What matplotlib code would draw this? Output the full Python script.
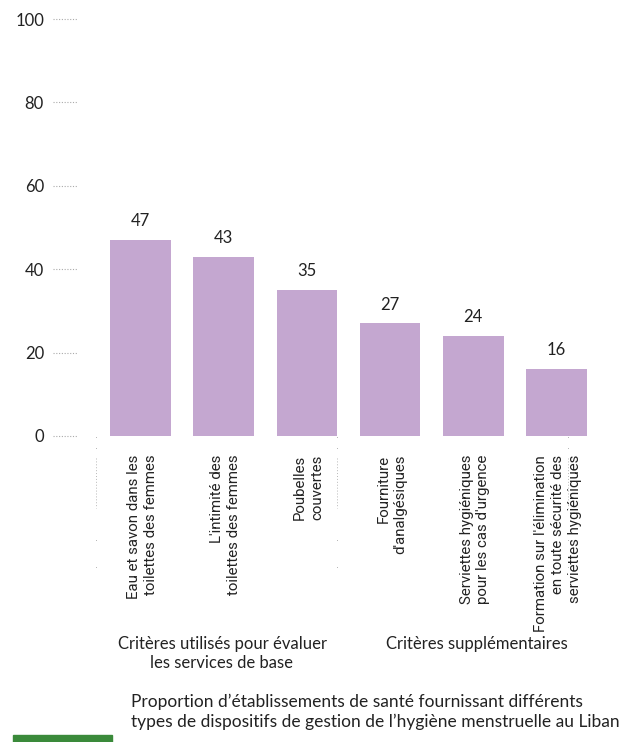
import matplotlib
matplotlib.use("Agg")
import matplotlib.pyplot as plt
import matplotlib.transforms as mtransforms
from matplotlib.patches import Rectangle

# data
categories = [
    "Eau et savon dans les\ntoilettes des femmes",
    "L'intimité des\ntoilettes des femmes",
    "Poubelles\ncouvertes",
    "Fourniture\nd'analgésiques",
    "Serviettes hygiéniques\npour les cas d'urgence",
    "Formation sur l'élimination\nen toute sécurité des\nserviettes hygiéniques",
]
values = [47, 43, 35, 27, 24, 16]
y_ticks = [0, 20, 40, 60, 80, 100]
groups = ["Critères utilisés pour évaluer\nles services de base", "Critères supplémentaires"]
title = ("Proportion d\u2019établissements de santé fournissant différents\n"
         "types de dispositifs de gestion de l\u2019hygiène menstruelle au Liban")

plt.rcParams["font.family"] = ["Lato", "DejaVu Sans"]

W, H = 631, 742
fig = plt.figure(figsize=(W / 100, H / 100), dpi=100)

# axes in pixel terms: left 53, right 600, bottom y=436, top y=19
ax = fig.add_axes([53 / W, 1 - 436 / H, (600 - 53) / W, (436 - 19) / H])
xs = list(range(len(values)))
ax.bar(xs, values, width=0.73, color="#c4a7d0")
ax.set_xlim(-1.052, 5.523)
ax.set_ylim(0, 100)

for s in ax.spines.values():
    s.set_visible(False)
ax.set_xticks([])
ax.set_yticks(y_ticks)
ax.set_yticklabels([str(t) for t in y_ticks], fontsize=12, color="#222222")
ax.tick_params(axis="y", length=0, pad=6.5)

# little dotted tick lines left of the bars
for t in y_ticks:
    ax.plot([-1.052, -0.75], [t, t], ls=(0, (1, 1.5)), lw=0.8, color="#aaaaaa", clip_on=False)

# value labels
for x, v in zip(xs, values):
    ax.text(x, v + 2.6, str(v), ha="center", va="bottom", fontsize=12, color="#222222")

# category labels, rotated
trans = mtransforms.blended_transform_factory(ax.transData, ax.transAxes)
for x, lab in zip(xs, categories):
    ax.text(x + 0.02, -0.045, lab, transform=trans, rotation=90, ha="center", va="top",
            multialignment="right", fontsize=10.8, family=["Roboto", "DejaVu Sans"],
            color="#222222", linespacing=1.25)

# group separators: a dense dotted stretch plus a few stray dots
px2ax = 1 / 417
for sx in [-0.535, 2.36, 5.14]:
    ax.plot([sx, sx], [-(458 - 436) * px2ax, -(508 - 436) * px2ax], transform=trans,
            ls=(0, (1, 2)), lw=0.7, color="#b8b8b8", clip_on=False)
    for py in [437, 448, 540, 567]:
        ax.plot([sx], [-(py - 436) * px2ax], transform=trans, marker="s", ms=0.7,
                mew=0, color="#b8b8b8", clip_on=False)

fig.text(222 / W, 1 - 636 / H, groups[0], ha="center", va="top", fontsize=12,
         color="#222222", linespacing=1.25)
fig.text(477 / W, 1 - 636 / H, groups[1], ha="center", va="top", fontsize=12,
         color="#222222")

fig.text(131 / W, 1 - 694 / H, title, ha="left", va="top", fontsize=12.5,
         color="#222222", linespacing=1.25)

fig.patches.append(Rectangle((13 / W, 0), 99 / W, 7 / H, transform=fig.transFigure,
                             color="#3a8a3a", zorder=5))

fig.savefig("out.png", dpi=100)
